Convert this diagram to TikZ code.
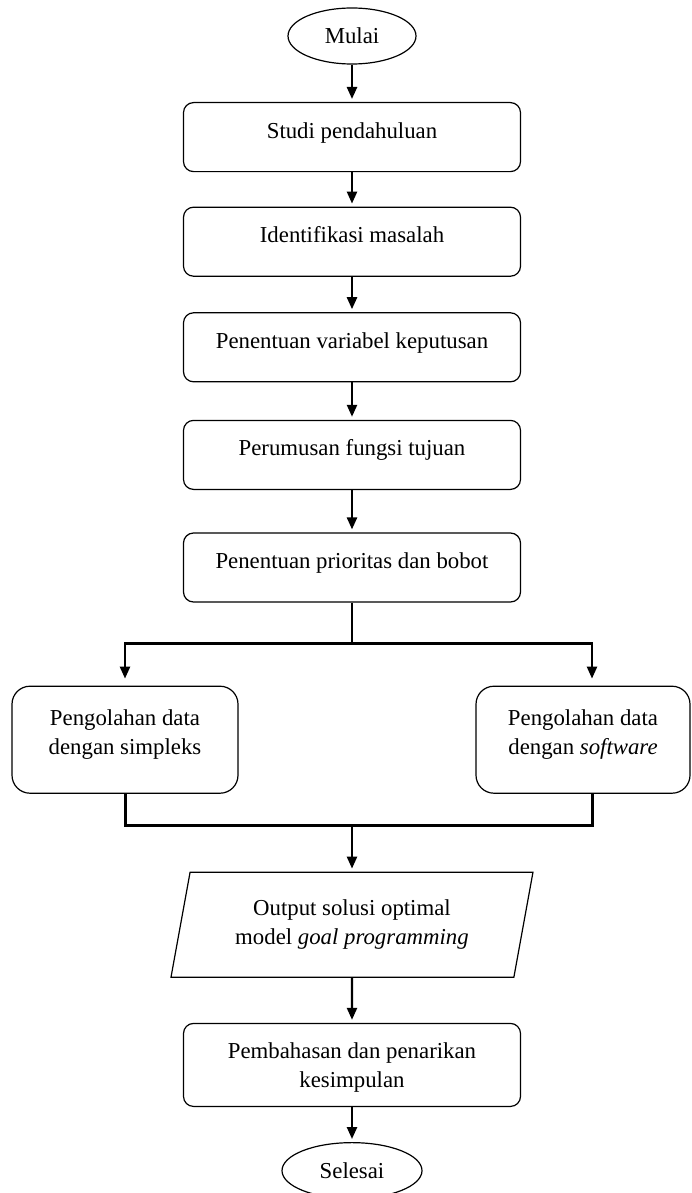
\documentclass[tikz,border=0pt]{standalone}
\usepackage{fontspec}
\setmainfont{Liberation Serif}
\usetikzlibrary{arrows.meta,positioning,shapes.geometric}

\begin{document}
\begin{tikzpicture}[semithick,
                    font=\fontsize{11.4}{14.5}\selectfont,
                    >={Triangle[length=6pt,width=5pt]},
                    terminal/.style={draw,ellipse,inner sep=0pt,
                                     minimum width=64pt,minimum height=28pt},
                    process/.style={draw,rounded corners=5pt,align=center,
                                    text height=8pt,text depth=7pt,
                                    minimum width=168.5pt,minimum height=34.5pt},
                    branch/.style={draw,rounded corners=9pt,align=center,
                                   text depth=8pt,minimum height=53.5pt},
                    io/.style={draw,trapezium,trapezium left angle=77,
                               trapezium right angle=103,trapezium stretches,
                               align=center,minimum width=181pt,
                               minimum height=52.5pt},
                    flow/.style={very thick,->,shorten >=1.5pt}]
  \useasboundingbox (0,0) rectangle (345.5pt,-596.5pt);
  \node[terminal] (mulai) at (176pt,-18pt) {Mulai};
  \node[process,below=18.7pt of mulai] (studi) {Studi pendahuluan};
  \node[process,below=17.2pt of studi] (identifikasi) {Identifikasi masalah};
  \node[process,below=17.7pt of identifikasi] (variabel)
       {Penentuan variabel keputusan};
  \node[process,below=18.7pt of variabel] (perumusan)
       {Perumusan fungsi tujuan};
  \node[process,below=21.2pt of perumusan] (prioritas)
       {Penentuan prioritas dan bobot};
  % The two branches are not centred on the column: the right one runs
  % to the very edge of the page, so its arrow lands a little right of
  % its middle. Keep the xshift on the arrow, not on the box.
  \node[branch,minimum width=113pt,below=41.5pt of prioritas,
        xshift=-113.5pt] (simpleks) {Pengolahan data\\dengan simpleks};
  \node[branch,minimum width=107pt,below=41.5pt of prioritas,
        xshift=115.5pt] (software) {Pengolahan data\\dengan \textit{software}};
  \node[io,below=134.5pt of prioritas] (output)
       {Output solusi optimal\\model \textit{goal programming}};
  \node[process,text height=,text depth=0pt,minimum height=41.5pt,
        below=22.5pt of output] (pembahasan)
       {Pembahasan dan penarikan\\kesimpulan};
  \node[terminal,minimum width=70pt,below=17.5pt of pembahasan] (selesai)
       {Selesai};

  \draw[flow] (mulai) -- (studi);
  \draw[flow] (studi) -- (identifikasi);
  \draw[flow] (identifikasi) -- (variabel);
  \draw[flow] (variabel) -- (perumusan);
  \draw[flow] (perumusan) -- (prioritas);
  \draw[very thick] (prioritas.south) -- ++(0,-20.5pt) coordinate (split);
  \draw[flow,shorten >=3.5pt] (split) -| (simpleks.north);
  \draw[flow,shorten >=3.5pt] (split) -| ([xshift=4.5pt]software.north);
  \draw[line width=1.5pt] (simpleks.south) -- ++(0,-16pt) coordinate (merge)
       -| ([xshift=4.5pt]software.south);
  \draw[flow] (merge -| output.north) -- (output.north);
  \draw[flow] (output) -- (pembahasan);
  \draw[flow] (pembahasan) -- (selesai);
\end{tikzpicture}
\end{document}
